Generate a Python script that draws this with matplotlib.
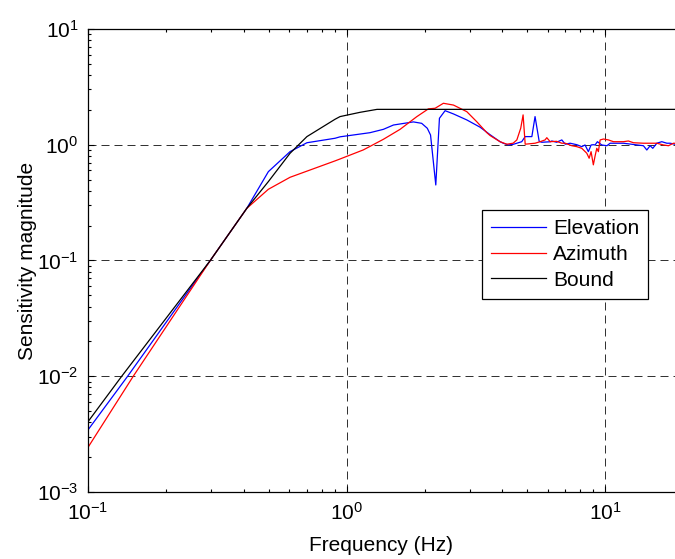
"""Sensitivity magnitude of the elevation and azimuth loops against the bound."""

import matplotlib
matplotlib.use('agg')
import matplotlib.pyplot as plt

plt.rcParams['font.family'] = ['Liberation Sans', 'DejaVu Sans']
plt.rcParams['mathtext.fontset'] = 'custom'
plt.rcParams['mathtext.rm'] = 'Liberation Sans'
plt.rcParams['mathtext.it'] = 'Liberation Sans'
plt.rcParams['mathtext.bf'] = 'Liberation Sans'
plt.rcParams['mathtext.default'] = 'regular'
plt.rcParams['axes.unicode_minus'] = False
plt.rcParams['font.size'] = 15

# frequency (Hz) / magnitude
f_elev = [0.1, 0.1423, 0.297, 0.411, 0.498, 0.604, 0.702, 0.902, 0.943, 1.23,
          1.387, 1.517, 1.811, 1.95, 2.05, 2.11, 2.211, 2.284, 2.402, 2.587,
          2.914, 3.281, 3.585, 3.917, 4.036, 4.217, 4.416, 4.753, 4.898, 5.20,
          5.35, 5.55, 5.68, 6.12, 6.21, 6.48, 6.79, 7.0, 7.31, 7.76,
          8.11, 8.35, 8.60, 8.81, 8.99, 9.13, 9.32, 9.69, 10.14, 10.44,
          11.75, 14.04, 14.47, 14.90, 15.26, 15.82, 16.53, 17.3, 17.81, 18.6, 20.0]
m_elev = [0.00344, 0.01, 0.1, 0.282, 0.585, 0.871, 1.04, 1.137, 1.17, 1.27,
          1.358, 1.48, 1.574, 1.53, 1.387, 1.213, 0.449, 1.692, 1.968, 1.845,
          1.637, 1.416, 1.22, 1.062, 1.029, 0.995, 1.009, 1.062, 1.175, 1.175,
          1.75, 1.07, 1.05, 1.06, 1.077, 1.05, 1.10, 1.01, 1.03, 1.0,
          0.962, 0.995, 0.871, 0.995, 1.0, 0.995, 1.062, 0.995, 0.98, 1.03,
          1.03, 0.98, 0.90, 0.98, 0.931, 1.03, 1.062, 1.03, 1.03, 1.01, 1.01]

f_azim = [0.1, 0.1496, 0.297, 0.411, 0.498, 0.604, 0.902, 0.943, 1.16, 1.387,
          1.609, 1.866, 2.07, 2.198, 2.366, 2.588, 2.914, 3.184, 3.483, 3.585,
          3.917, 4.16, 4.40, 4.55, 4.71, 4.81, 4.90, 5.35, 5.60, 5.85,
          5.94, 6.12, 6.48, 6.79, 7.0, 7.42, 7.76, 8.11, 8.48, 8.66,
          8.81, 8.99, 9.13, 9.27, 9.40, 9.55, 9.84, 10.28, 10.75, 11.75,
          12.28, 12.85, 14.04, 15.82, 16.78, 17.54, 18.35, 20.0]
m_azim = [0.00243, 0.01, 0.1, 0.282, 0.412, 0.523, 0.725, 0.753, 0.902, 1.114,
          1.358, 1.746, 2.04, 2.065, 2.28, 2.20, 1.93, 1.58, 1.27, 1.20,
          1.062, 1.01, 1.03, 1.10, 1.39, 1.81, 1.01, 1.03, 1.062, 1.10,
          1.15, 1.062, 1.07, 1.03, 1.03, 0.98, 0.962, 0.931, 0.844, 0.764,
          0.871, 0.67, 0.80, 0.931, 0.871, 1.10, 1.12, 1.10, 1.062, 1.062,
          1.077, 1.04, 1.03, 1.03, 0.995, 0.98, 1.03, 1.02]

f_bound = [0.1, 0.135, 0.297, 0.411, 0.498, 0.604, 0.702, 0.902, 0.943, 1.127,
           1.31, 20.0]
m_bound = [0.00405, 0.01, 0.1, 0.282, 0.48, 0.843, 1.175, 1.66, 1.75, 1.905,
           2.02, 2.02]

fig = plt.figure(figsize=(6.75, 5.59), dpi=100)
# axes run slightly past the right edge of the figure, as in the original
ax = fig.add_axes([0.1304, 0.1199, 0.8817, 0.8283])

ax.plot(f_elev, m_elev, color='#0000ff', lw=0.9, label='Elevation')
ax.plot(f_azim, m_azim, color='#ff0000', lw=0.9, label='Azimuth')
ax.plot(f_bound, m_bound, color='black', lw=0.9, label='Bound')

ax.set_xscale('log')
ax.set_yscale('log')
ax.set_xlim(0.1, 20)
ax.set_ylim(1e-3, 1e1)

ax.grid(True, which='major', color='#333333', lw=0.72, linestyle=(0, (8, 5)))
ax.tick_params(which='both', direction='in', top=True, right=True,
               labelsize=15, width=0.8)
ax.tick_params(which='major', length=4.5, pad=7)
ax.tick_params(which='minor', length=2.5)
for s in ax.spines.values():
    s.set_linewidth(0.9)

ax.set_xlabel('Frequency (Hz)', fontsize=15)
ax.set_ylabel('Sensitivity magnitude', fontsize=15)
ax.xaxis.set_label_coords(0.493, -0.095)
ax.yaxis.set_label_coords(-0.086, 0.5)

leg = ax.legend(loc='upper left', bbox_to_anchor=(0.662, 0.609), borderaxespad=0,
                fontsize=15, fancybox=False, framealpha=1, edgecolor='black',
                handlelength=2.6, handletextpad=0.35, labelspacing=0.32,
                borderpad=0.45)
leg.get_frame().set_linewidth(0.9)

plt.savefig('out.png', dpi=100)
